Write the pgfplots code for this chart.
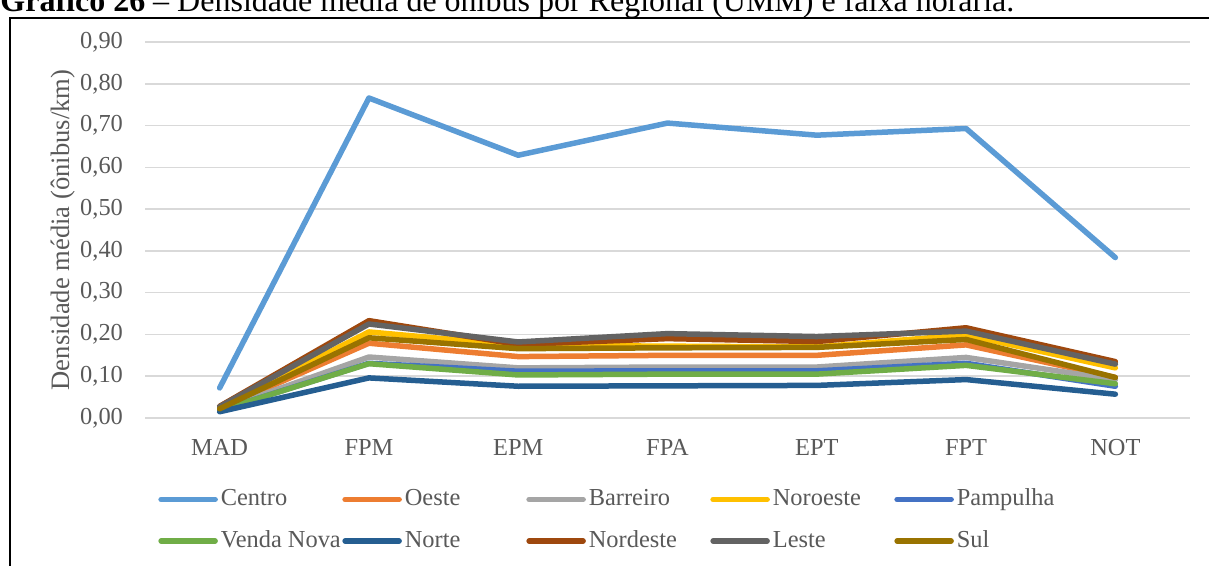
\documentclass[border=0pt]{standalone}
\usepackage{fontspec}
\setmainfont{Liberation Serif}
\usepackage{pgfplots}
\usepackage{pgfplotstable}
\pgfplotsset{compat=1.18}

\definecolor{cCentro}{HTML}{5B9BD5}
\definecolor{cOeste}{HTML}{ED7D31}
\definecolor{cBarreiro}{HTML}{A5A5A5}
\definecolor{cNoroeste}{HTML}{FFC000}
\definecolor{cPampulha}{HTML}{4472C4}
\definecolor{cVenda}{HTML}{70AD47}
\definecolor{cNorte}{HTML}{255E91}
\definecolor{cNordeste}{HTML}{9E480E}
\definecolor{cLeste}{HTML}{636363}
\definecolor{cSul}{HTML}{997300}
\definecolor{txt}{HTML}{595959}
\definecolor{grd}{HTML}{D9D9D9}

% density (buses/km) per time slot: MAD FPM EPM FPA EPT FPT NOT
\pgfplotstableread{
x Centro Oeste Barreiro Noroeste Pampulha Venda Norte Nordeste Leste Sul
0 0.072 0.022 0.020 0.024 0.018 0.018 0.015 0.028 0.027 0.022
1 0.766 0.179 0.146 0.206 0.131 0.130 0.096 0.233 0.225 0.192
2 0.629 0.147 0.120 0.174 0.112 0.103 0.076 0.176 0.182 0.166
3 0.706 0.150 0.122 0.172 0.113 0.105 0.077 0.190 0.202 0.168
4 0.677 0.150 0.122 0.170 0.113 0.105 0.078 0.183 0.195 0.169
5 0.693 0.175 0.145 0.199 0.131 0.126 0.092 0.216 0.208 0.188
6 0.384 0.097 0.092 0.120 0.076 0.082 0.057 0.135 0.129 0.097
}\dens

\newcommand{\legbox}[1]{\makebox[60.75pt][l]{#1}}

\begin{document}
\begin{tikzpicture}
\begin{scope}[x=0.5pt,y=-0.5pt]
  \path[use as bounding box] (0,0) rectangle (1209,566);
  \draw[line width=0.75pt] (10,600) -- (10,18) -- (1240,18);
  \node[anchor=base west, inner sep=0pt, font=\fontsize{16}{18}\selectfont]
    at (0,12) {\textbf{Gráfico 26} – Densidade média de ônibus por Regional (UMM) e faixa horária.};
\end{scope}
\begin{axis}[
    at={(72.5pt,-209pt)}, anchor=south west,
    width=522.5pt, height=188pt, scale only axis,
    xmin=-0.5, xmax=6.5, ymin=0, ymax=0.9,
    xtick={0,...,6},
    xticklabels={MAD,FPM,EPM,FPA,EPT,FPT,NOT},
    ytick={0,0.1,0.2,0.3,0.4,0.5,0.6,0.7,0.8,0.9},
    yticklabel style={xshift=-7.5pt,
      /pgf/number format/fixed, /pgf/number format/fixed zerofill,
      /pgf/number format/precision=2, /pgf/number format/use comma,
      /pgf/number format/assume math mode=true},
    xticklabel style={yshift=-7pt},
    tick label style={font=\fontsize{12.2}{14}\selectfont, text=txt},
    ymajorgrids, grid style={grd, line width=0.75pt},
    axis line style={draw=none}, major tick length=0pt,
    ylabel={Densidade média (ônibus/km)},
    ylabel style={at={(rel axis cs:-0.0785,0.5)}, anchor=center,
      font=\fontsize{13.3}{15}\selectfont, text=txt},
    clip=false,
    every axis plot/.append style={line width=2.75pt, line join=round, line cap=round},
    legend image code/.code={\draw[#1] (0pt,0pt) -- (27pt,0pt);},
    legend columns=5,
    legend style={at={(rel axis cs:0.0124,-0.185)}, anchor=north west,
      draw=none, inner sep=0pt, row sep=9.25pt,
      font=\fontsize{12.2}{14}\selectfont, text=txt,
      nodes={inner sep=0pt, text height=9pt, text depth=2.5pt},
      /tikz/every odd column/.append style={column sep=1.5pt},
      /tikz/every even column/.append style={column sep=0pt}},
  ]
  \addplot[cCentro] table[x=x,y=Centro] {\dens};
  \addlegendentry{\legbox{Centro}}
  \addplot[cOeste] table[x=x,y=Oeste] {\dens};
  \addlegendentry{\legbox{Oeste}}
  \addplot[cBarreiro] table[x=x,y=Barreiro] {\dens};
  \addlegendentry{\legbox{Barreiro}}
  \addplot[cNoroeste] table[x=x,y=Noroeste] {\dens};
  \addlegendentry{\legbox{Noroeste}}
  \addplot[cPampulha] table[x=x,y=Pampulha] {\dens};
  \addlegendentry{\legbox{Pampulha}}
  \addplot[cVenda] table[x=x,y=Venda] {\dens};
  \addlegendentry{\legbox{Venda Nova}}
  \addplot[cNorte] table[x=x,y=Norte] {\dens};
  \addlegendentry{\legbox{Norte}}
  \addplot[cNordeste] table[x=x,y=Nordeste] {\dens};
  \addlegendentry{\legbox{Nordeste}}
  \addplot[cLeste] table[x=x,y=Leste] {\dens};
  \addlegendentry{\legbox{Leste}}
  \addplot[cSul] table[x=x,y=Sul] {\dens};
  \addlegendentry{\legbox{Sul}}
\end{axis}
\end{tikzpicture}
\end{document}
